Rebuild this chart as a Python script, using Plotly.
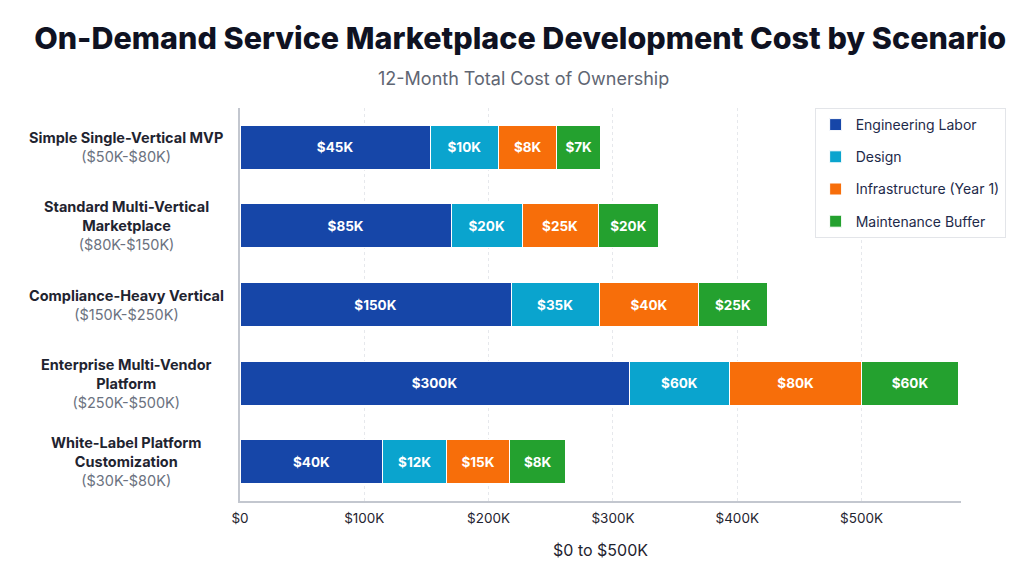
import plotly.graph_objects as go

# ---------------- data ----------------
scenarios = [
    "Simple Single-Vertical MVP",
    "Standard Multi-Vertical Marketplace",
    "Compliance-Heavy Vertical",
    "Enterprise Multi-Vendor Platform",
    "White-Label Platform Customization",
]
scenario_lines = [
    ["Simple Single-Vertical MVP"],
    ["Standard Multi-Vertical", "Marketplace"],
    ["Compliance-Heavy Vertical"],
    ["Enterprise Multi-Vendor", "Platform"],
    ["White-Label Platform", "Customization"],
]
scenario_ranges = ["($50K-$80K)", "($80K-$150K)", "($150K-$250K)", "($250K-$500K)", "($30K-$80K)"]

series_names = ["Engineering Labor", "Design", "Infrastructure (Year 1)", "Maintenance Buffer"]

# drawn segment lengths (in $K, as drawn against the axis)
engineering_len = [153, 170, 218, 313, 115]
design_len = [55, 57, 71, 81, 51]
infrastructure_len = [47, 61, 80, 106, 51]
maintenance_len = [35, 49, 55, 78, 45]

# printed segment labels (in $K)
engineering_lbl = [45, 85, 150, 300, 40]
design_lbl = [10, 20, 35, 60, 12]
infrastructure_lbl = [8, 25, 40, 80, 15]
maintenance_lbl = [7, 20, 25, 60, 8]

tick_vals = [0, 100, 200, 300, 400, 500]
tick_text = ["$0", "$100K", "$200K", "$300K", "$400K", "$500K"]

colors = ["#1646A8", "#0AA4CE", "#F76E0A", "#24A12F"]

# ---------------- figure ----------------
fig = go.Figure()
lens = [engineering_len, design_len, infrastructure_len, maintenance_len]
lbls = [engineering_lbl, design_lbl, infrastructure_lbl, maintenance_lbl]
for i, name in enumerate(series_names):
    fig.add_trace(go.Bar(
        y=scenarios, x=lens[i], orientation="h", name=name,
        legendgroup=name,
        marker=dict(color=colors[i], line=dict(color="#ffffff", width=1)),
        text=[f"${v}K" for v in lbls[i]],
        textposition="inside", insidetextanchor="middle", textangle=0,
        constraintext="none",
        textfont=dict(color="#ffffff", size=13.5, family="Inter", weight=700),
        hoverinfo="skip",
    ))

# row labels (centered multi-line)
for s, lines, rng in zip(scenarios, scenario_lines, scenario_ranges):
    txt = "<br>".join(f"<b>{l}</b>" for l in lines) + f"<br><span style='color:#6b7280'>{rng}</span>"
    fig.add_annotation(
        x=-0.158, xref="paper", y=s, yref="y", text=txt, showarrow=False,
        xanchor="center", yanchor="middle", align="center",
        font=dict(family="Inter", size=14.5, color="#1f2430"),
    )

# subtitle
fig.add_annotation(
    x=0.393, xref="paper", y=1.075, yref="paper", text="12-Month Total Cost of Ownership",
    showarrow=False, xanchor="center", yanchor="middle",
    font=dict(family="Inter", size=18, color="#5f6673"),
)

fig.update_layout(
    width=1024, height=576,
    margin=dict(l=240, r=63, t=108, b=75),
    paper_bgcolor="#ffffff", plot_bgcolor="#ffffff",
    barmode="stack", bargap=0.44,
    title=dict(
        text="On-Demand Service Marketplace Development Cost by Scenario",
        x=0.508, xanchor="center", y=1 - 38 / 576, yanchor="middle", yref="container",
        font=dict(family="Inter", size=30.5, color="#0f1222", weight=800),
    ),
    xaxis=dict(
        range=[0, 580], tickvals=tick_vals, ticktext=tick_text,
        showgrid=True, gridcolor="#e6e8ec", griddash="3px,3px", gridwidth=1,
        showline=True, linecolor="#c3c7cf", linewidth=2, zeroline=False,
        ticks="", ticklabelstandoff=4,
        tickfont=dict(family="Inter", size=13.5, color="#1f2430"),
        title=dict(text="$0 to $500K", standoff=20,
                   font=dict(family="Inter", size=16, color="#1f2430")),
    ),
    yaxis=dict(
        categoryorder="array", categoryarray=scenarios, autorange="reversed",
        showticklabels=False, showgrid=False,
        showline=True, linecolor="#c3c7cf", linewidth=2, zeroline=False,
    ),
    legend=dict(
        x=0.797, y=1.0, xanchor="left", yanchor="top",
        bgcolor="#ffffff", bordercolor="#e3e5e9", borderwidth=1,
        font=dict(family="Inter", size=14, color="#1e2a4a"),
        tracegroupgap=11, traceorder="grouped",
    ),
    showlegend=True,
)

fig.write_html("out.html")
